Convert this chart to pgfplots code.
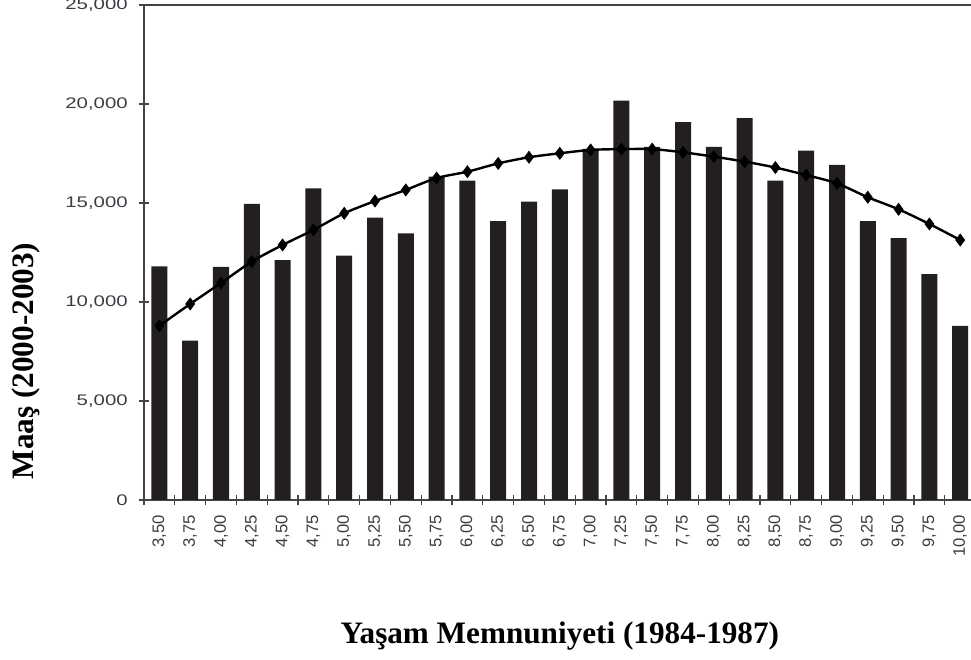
\documentclass[border=0pt]{standalone}
\usepackage{pgfplots}
\pgfplotsset{compat=1.18}
\usepackage{fontspec}
\setmainfont{Liberation Serif}
\newfontfamily\ytickfont[FakeStretch=1.33]{Liberation Sans}
\newfontfamily\xtickfont{Liberation Sans}
\definecolor{barc}{HTML}{231F20}
\definecolor{tickc}{HTML}{3C3C44}
\definecolor{axc}{HTML}{444444}

\pgfplotstableread{
x y
1 11800
2 8050
3 11780
4 14950
5 12120
6 15740
7 12340
8 14260
9 13470
10 16330
11 16130
12 14090
13 15070
14 15690
15 17730
16 20170
17 17840
18 19090
19 17840
20 19290
21 16130
22 17640
23 16920
24 14090
25 13220
26 11410
27 8800
}\bars

\pgfplotstableread{
x y
1 8800
2 9900
3 10960
4 12040
5 12880
6 13640
7 14480
8 15100
9 15660
10 16260
11 16580
12 17000
13 17310
14 17510
15 17680
16 17720
17 17720
18 17560
19 17340
20 17090
21 16790
22 16410
23 15990
24 15290
25 14680
26 13940
27 13130
}\fit

\begin{document}
\begin{tikzpicture}
\clip (0,0) rectangle (728.25pt,495pt);
\begin{axis}[
  at={(108pt,120pt)}, anchor=south west,
  scale only axis, width=623.7pt, height=371.25pt,
  xmin=0.5, xmax=27.5, ymin=0, ymax=25000,
  axis line style={draw=axc, line width=1.5pt},
  xtick pos=bottom, ytick pos=left,
  tick align=center,
  major tick length=8pt,
  tick style={draw=axc, line width=1pt},
  xtick={0.5,1.5,...,27.5},
  xticklabels={},
  extra x ticks={1,2,...,27},
  extra x tick labels={{3,50},{3,75},{4,00},{4,25},{4,50},{4,75},{5,00},{5,25},{5,50},{5,75},{6,00},{6,25},{6,50},{6,75},{7,00},{7,25},{7,50},{7,75},{8,00},{8,25},{8,50},{8,75},{9,00},{9,25},{9,50},{9,75},{10,00}},
  extra x tick style={major tick length=0pt,
     tick label style={rotate=90, anchor=east, inner sep=0pt, xshift=-11pt,
       font=\xtickfont\fontsize{12.5pt}{14pt}\selectfont, text=tickc}},
  ytick={0,5000,10000,15000,20000,25000},
  yticklabels={0,{5,000},{10,000},{15,000},{20,000},{25,000}},
  yticklabel style={font=\ytickfont\fontsize{11.5pt}{14pt}\selectfont, text=tickc, anchor=east, inner sep=0pt, xshift=-8pt},
  xlabel={Yaşam Memnuniyeti (1984-1987)},
  xlabel style={at={(axis description cs:0.5,0)}, anchor=base, yshift=-107.25pt,
     font=\bfseries\fontsize{23.4pt}{28pt}\selectfont},
  ylabel={Maaş (2000-2003)},
  ylabel style={at={(axis description cs:-0.142,0.281)}, anchor=center,
     font=\bfseries\fontsize{23.4pt}{28pt}\selectfont},
  clip=false,
]
\addplot[ybar, bar width=12pt, fill=barc, draw=none] table[x=x,y=y]{\bars};
\addplot[black, line width=1.8pt, smooth, mark=diamond*, mark size=4.5pt, mark options={fill=black, line width=0.5pt}] table[x=x,y=y]{\fit};
\end{axis}
\end{tikzpicture}
\end{document}
